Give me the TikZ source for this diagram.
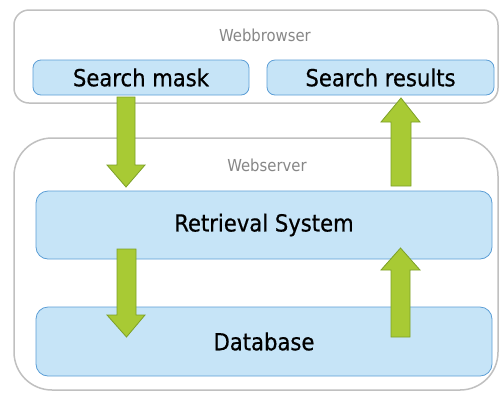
\documentclass[tikz,border=0pt]{standalone}
\usepackage{fontspec}
\setmainfont{DejaVu Sans Condensed}
\newfontfamily\boxfont[FakeBold=0.6]{DejaVu Sans Condensed}
\definecolor{boxfill}{RGB}{198,228,247}
\definecolor{boxline}{RGB}{92,158,214}
\definecolor{arrfill}{RGB}{168,202,52}
\definecolor{arrline}{RGB}{125,160,40}
\definecolor{outline}{RGB}{192,192,192}
\definecolor{labelgray}{RGB}{135,135,135}
\tikzset{
  container/.style={draw=outline, line width=1.5pt, fill=white},
  blockbox/.style={draw=boxline, line width=0.8pt, fill=boxfill, rounded corners=8pt,
    font=\boxfont\fontsize{23.5}{26}\selectfont, text=black, inner sep=0pt},
  grouplabel/.style={font=\fontsize{16.5}{18}\selectfont, text=labelgray, inner sep=0pt},
  fatarrow/.style={draw=arrline, line width=0.8pt, fill=arrfill}
}
\begin{document}
\begin{tikzpicture}[x=1pt,y=-1pt]
\useasboundingbox (0,0) rectangle (500,392);
% containers
\draw[container, rounded corners=15pt] (14,10) rectangle (498,103);
\draw[container, rounded corners=38pt] (14,138) rectangle (498,390);
\node[grouplabel] (lbrowser) at (265,35) {Webbrowser};
\node[grouplabel] (lserver) at (267,165) {Webserver};
% blocks
\node[blockbox, minimum width=216pt, minimum height=35pt] (mask) at (141,77.5) {Search mask};
\node[blockbox, minimum width=227pt, minimum height=35pt] (results) at (380.5,77.5) {Search results};
\node[blockbox, rounded corners=12pt, minimum width=456pt, minimum height=68pt] (retrieval) at (264,225) {Retrieval System};
\node[blockbox, rounded corners=12pt, minimum width=456pt, minimum height=69pt] (database) at (264,341.5) {Database};
% arrows
\coordinate (a1s) at (126,97);   \coordinate (a1t) at (126,187);
\coordinate (a2s) at (401,186);  \coordinate (a2t) at (401,98);
\coordinate (a3s) at (126.5,249); \coordinate (a3t) at (126.5,337);
\coordinate (a4s) at (400.5,337); \coordinate (a4t) at (400.5,248);
\draw[fatarrow] (117,97) -- (135,97) -- (135,165) -- (145,165) -- (a1t) -- (107,165) -- (117,165) -- cycle;
\draw[fatarrow] (391,186) -- (411,186) -- (411,122) -- (420,122) -- (a2t) -- (381,122) -- (391,122) -- cycle;
\draw[fatarrow] (117,249) -- (136,249) -- (136,315) -- (145,315) -- (a3t) -- (107,315) -- (117,315) -- cycle;
\draw[fatarrow] (391,337) -- (410,337) -- (410,270) -- (420,270) -- (a4t) -- (381,270) -- (391,270) -- cycle;
\end{tikzpicture}
\end{document}
